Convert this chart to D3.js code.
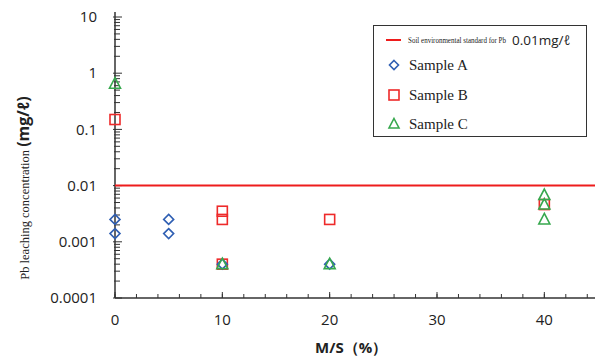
<!DOCTYPE html>
<html>
<head>
<meta charset="utf-8">
<script src="https://cdn.jsdelivr.net/npm/d3@7"></script>
<style>
  html, body { margin: 0; padding: 0; background: #fff; }
  svg { display: block; }
</style>
</head>
<body>
<svg id="chart" width="595" height="363"></svg>
<script>
// Pb leaching concentration vs M/S ratio
const xTicks = [0, 10, 20, 30, 40];
const yTicks = [0.0001, 0.001, 0.01, 0.1, 1, 10];
const yTickLabels = ["0.0001", "0.001", "0.01", "0.1", "1", "10"];
const standardValue = 0.01;

const sampleA_x = [0, 0, 5, 5, 10, 20];
const sampleA_y = [0.0025, 0.0014, 0.0025, 0.0014, 0.0004, 0.0004];

const sampleB_x = [0, 10, 10, 10, 20, 40];
const sampleB_y = [0.15, 0.0035, 0.0025, 0.0004, 0.0025, 0.0046];

const sampleC_x = [0, 10, 20, 40, 40, 40];
const sampleC_y = [0.65, 0.0004, 0.0004, 0.0068, 0.0046, 0.0025];

const colors = { A: "#2f5fb3", B: "#ee2a2a", C: "#37a84e", std: "#ee1c1c" };

const svg = d3.select("#chart");
const plotLeft = 115, plotRight = 598, plotTop = 17, plotBottom = 298;

const x = d3.scaleLinear().domain([0, 45]).range([plotLeft, plotRight]);
const y = d3.scaleLog().domain([0.0001, 10]).range([plotBottom, plotTop]);

// Y axis with decade labels and minor ticks
const yMinor = [];
for (let e = -4; e < 1; e++) for (let m = 2; m <= 9; m++) yMinor.push(m * Math.pow(10, e));

const gy = svg.append("g");
gy.append("line").attr("x1", plotLeft).attr("x2", plotLeft).attr("y1", plotTop - 5).attr("y2", plotBottom)
  .attr("stroke", "#333").attr("stroke-width", 1.5);
gy.selectAll(".ymaj").data(yTicks).join("line")
  .attr("x1", plotLeft - 2).attr("x2", plotLeft + 7)
  .attr("y1", d => y(d)).attr("y2", d => y(d))
  .attr("stroke", "#333").attr("stroke-width", 1);
gy.selectAll(".ymin").data(yMinor).join("line")
  .attr("x1", plotLeft - 1).attr("x2", plotLeft + 5)
  .attr("y1", d => y(d)).attr("y2", d => y(d))
  .attr("stroke", "#333").attr("stroke-width", 1);
gy.selectAll("text").data(yTicks).join("text")
  .attr("x", 97).attr("y", d => y(d)).attr("dy", "0.35em")
  .attr("text-anchor", "end")
  .attr("font-family", "'Open Sans', sans-serif").attr("font-size", 15).attr("fill", "#222")
  .text((d, i) => yTickLabels[i]);

// X axis with labels and minor ticks every 2
const xMinor = d3.range(0, 46, 2);
const gx = svg.append("g");
gx.append("line").attr("x1", plotLeft).attr("x2", 595).attr("y1", plotBottom).attr("y2", plotBottom)
  .attr("stroke", "#333").attr("stroke-width", 1.5);
gx.selectAll(".xmin").data(xMinor).join("line")
  .attr("x1", d => x(d)).attr("x2", d => x(d))
  .attr("y1", plotBottom).attr("y2", plotBottom - 4)
  .attr("stroke", "#333").attr("stroke-width", 1);
gx.selectAll(".xmaj").data(xTicks).join("line")
  .attr("x1", d => x(d)).attr("x2", d => x(d))
  .attr("y1", plotBottom).attr("y2", plotBottom - 6)
  .attr("stroke", "#333").attr("stroke-width", 1);
gx.selectAll("text").data(xTicks).join("text")
  .attr("x", d => x(d)).attr("y", 325)
  .attr("text-anchor", "middle")
  .attr("font-family", "'Open Sans', sans-serif").attr("font-size", 15).attr("fill", "#222")
  .text(d => d);

// Axis titles
svg.append("text")
  .attr("x", x(22)).attr("y", 353).attr("text-anchor", "middle")
  .attr("font-family", "'Open Sans', sans-serif").attr("font-weight", "bold")
  .attr("font-size", 15).attr("fill", "#222")
  .text("M/S（%）");

const ylab = svg.append("text")
  .attr("transform", "translate(29,188) rotate(-90)")
  .attr("text-anchor", "middle").attr("fill", "#222");
ylab.append("tspan").attr("font-family", "'Liberation Serif', serif").attr("font-size", 12.5)
  .text("Pb leaching concentration ");
ylab.append("tspan").attr("font-family", "'Open Sans', sans-serif").attr("font-weight", "bold")
  .attr("font-size", 16).text("(mg/ℓ)");

// Environmental standard line
svg.append("line")
  .attr("x1", plotLeft).attr("x2", 595)
  .attr("y1", y(standardValue)).attr("y2", y(standardValue))
  .attr("stroke", colors.std).attr("stroke-width", 2);

// Marker shapes
const sz = 5;
function diamond(g, xs, ys, c) {
  g.selectAll(null).data(xs.map((v, i) => [v, ys[i]])).join("path")
    .attr("d", d => { const cx = x(d[0]), cy = y(d[1]);
      return `M${cx},${cy - sz}L${cx + sz},${cy}L${cx},${cy + sz}L${cx - sz},${cy}Z`; })
    .attr("fill", "none").attr("stroke", c).attr("stroke-width", 1.6);
}
function square(g, xs, ys, c) {
  g.selectAll(null).data(xs.map((v, i) => [v, ys[i]])).join("rect")
    .attr("x", d => x(d[0]) - sz).attr("y", d => y(d[1]) - sz)
    .attr("width", sz * 2).attr("height", sz * 2)
    .attr("fill", "none").attr("stroke", c).attr("stroke-width", 1.6);
}
function triangle(g, xs, ys, c) {
  g.selectAll(null).data(xs.map((v, i) => [v, ys[i]])).join("path")
    .attr("d", d => { const cx = x(d[0]), cy = y(d[1]);
      return `M${cx},${cy - sz - 1}L${cx + sz + 0.5},${cy + sz - 0.5}L${cx - sz - 0.5},${cy + sz - 0.5}Z`; })
    .attr("fill", "none").attr("stroke", c).attr("stroke-width", 1.6);
}

const pts = svg.append("g");
square(pts, sampleB_x, sampleB_y, colors.B);
diamond(pts, sampleA_x, sampleA_y, colors.A);
triangle(pts, sampleC_x, sampleC_y, colors.C);

// Legend
const lg = svg.append("g");
lg.append("rect").attr("x", 373.5).attr("y", 25.5).attr("width", 213).attr("height", 111)
  .attr("fill", "#fff").attr("stroke", "#333").attr("stroke-width", 1);
lg.append("line").attr("x1", 386).attr("x2", 401).attr("y1", 40).attr("y2", 40)
  .attr("stroke", colors.std).attr("stroke-width", 2);
lg.append("text").attr("x", 408).attr("y", 42.5)
  .attr("font-family", "'Liberation Serif', serif").attr("font-size", 7.5).attr("fill", "#222")
  .attr("textLength", 98).attr("lengthAdjust", "spacingAndGlyphs")
  .text("Soil environmental standard for Pb");
lg.append("text").attr("x", 512).attr("y", 45)
  .attr("font-family", "'Open Sans', sans-serif").attr("font-size", 13.5).attr("fill", "#222")
  .text("0.01mg/ℓ");

const legendItems = [
  { label: "Sample A", shape: "diamond", color: colors.A, yy: 65 },
  { label: "Sample B", shape: "square", color: colors.B, yy: 95 },
  { label: "Sample C", shape: "triangle", color: colors.C, yy: 124 }
];
legendItems.forEach(it => {
  const cx = 394, cy = it.yy;
  if (it.shape === "diamond")
    lg.append("path").attr("d", `M${cx},${cy - 4.5}L${cx + 4.5},${cy}L${cx},${cy + 4.5}L${cx - 4.5},${cy}Z`)
      .attr("fill", "none").attr("stroke", it.color).attr("stroke-width", 1.6);
  else if (it.shape === "square")
    lg.append("rect").attr("x", cx - 5).attr("y", cy - 5).attr("width", 10).attr("height", 10)
      .attr("fill", "none").attr("stroke", it.color).attr("stroke-width", 1.6);
  else
    lg.append("path").attr("d", `M${cx},${cy - 5.5}L${cx + 5},${cy + 4}L${cx - 5},${cy + 4}Z`)
      .attr("fill", "none").attr("stroke", it.color).attr("stroke-width", 1.6);
  lg.append("text").attr("x", 409).attr("y", cy + 5)
    .attr("font-family", "'Liberation Serif', serif").attr("font-size", 15).attr("fill", "#222")
    .text(it.label);
});
</script>
</body>
</html>
